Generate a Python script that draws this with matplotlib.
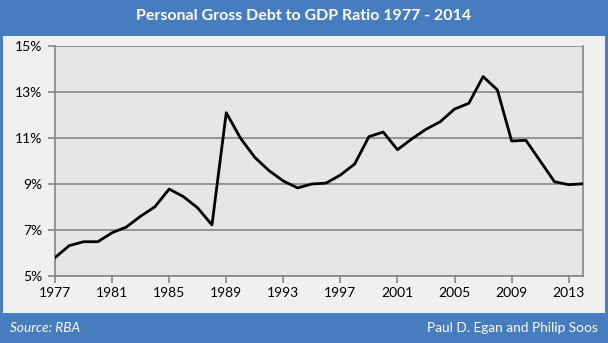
import matplotlib.pyplot as plt
import matplotlib.patches as mpatches
from matplotlib.ticker import FixedLocator

years = list(range(1977, 2015))
ratio = [5.80, 6.32, 6.49, 6.49, 6.88, 7.13, 7.60, 8.01, 8.78, 8.45,
         7.96, 7.22, 12.10, 10.99, 10.16, 9.58, 9.13, 8.83, 9.00, 9.04,
         9.39, 9.87, 11.06, 11.26, 10.49, 10.96, 11.38, 11.71, 12.26, 12.51,
         13.67, 13.09, 10.87, 10.90, 10.00, 9.10, 8.97, 9.01]
year_ticks = [1977, 1981, 1985, 1989, 1993, 1997, 2001, 2005, 2009, 2013]
pct_ticks = [5, 7, 9, 11, 13, 15]

W, H = 608, 343
BLUE = "#467dbf"
plt.rcParams["font.family"] = ["Lato", "DejaVu Sans"]

fig = plt.figure(figsize=(W / 100, H / 100), dpi=100, facecolor=BLUE)

# light panel inside the blue frame, kept behind the axes
fig.patches.append(mpatches.Rectangle(
    (3 / W, (H - 313) / H), 602 / W, 277 / H,
    transform=fig.transFigure, facecolor="#f0f0f0", edgecolor="none", zorder=-10))

ax = fig.add_axes([55 / W, (H - 276) / H, 528 / W, 230 / H])
ax.set_facecolor("#e6e6e6")
ax.plot(years, ratio, color="black", linewidth=2, zorder=3)

ax.set_xlim(1977, 2014)
ax.set_ylim(5, 15)
ax.xaxis.set_major_locator(FixedLocator(year_ticks))
ax.yaxis.set_major_locator(FixedLocator(pct_ticks))
ax.set_yticklabels([f"{v}%" for v in pct_ticks])
ax.grid(axis="y", color="#868686", linewidth=1.2, zorder=1)
ax.set_axisbelow(True)
for side in ["left", "bottom", "right"]:
    ax.spines[side].set_color("#868686")
    ax.spines[side].set_linewidth(1.2)
ax.spines["top"].set_visible(False)
ax.tick_params(axis="both", colors="#868686", labelcolor="black",
               labelsize=10, length=5, width=1.2)
ax.tick_params(axis="y", pad=4)
ax.tick_params(axis="x", pad=3)

fig.text(0.5, 1 - 16 / H, "Personal Gross Debt to GDP Ratio 1977 - 2014",
         color="white", fontsize=11.5, fontweight="bold", ha="center", va="center")
fig.text(10 / W, 1 - 328 / H, "Source: RBA", color="white", fontsize=9.8,
         style="italic", ha="left", va="center")
fig.text(598 / W, 1 - 328 / H, "Paul D. Egan and Philip Soos", color="white",
         fontsize=9.8, ha="right", va="center")

fig.savefig("out.png", dpi=100, facecolor=BLUE)
